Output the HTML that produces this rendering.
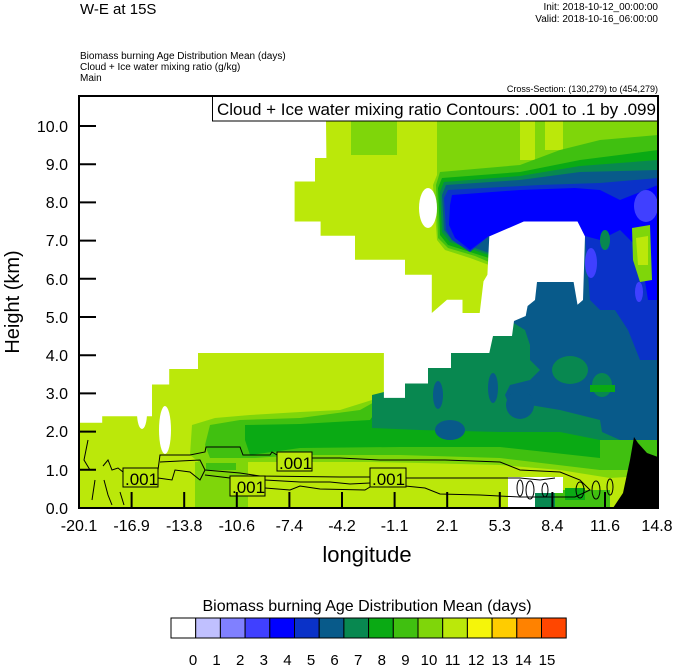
<!DOCTYPE html>
<html><head><meta charset="utf-8"><style>
html,body{margin:0;padding:0;background:#fff;}
svg{display:block;font-family:"Liberation Sans",Arial,sans-serif;}
</style></head><body>
<svg width="674" height="667" viewBox="0 0 674 667" xmlns="http://www.w3.org/2000/svg">
<rect width="674" height="667" fill="#fff"/>
<text x="80" y="14" font-size="15">W-E at 15S</text>
<text x="658" y="10" font-size="10" text-anchor="end">Init: 2018-10-12_00:00:00</text>
<text x="658" y="22" font-size="10" text-anchor="end">Valid: 2018-10-16_06:00:00</text>
<text x="80" y="59" font-size="10">Biomass burning Age Distribution Mean   (days)</text>
<text x="80" y="70" font-size="10">Cloud + Ice water mixing ratio   (g/kg)</text>
<text x="80" y="81" font-size="10">Main</text>
<text x="658" y="92" font-size="9" text-anchor="end">Cross-Section: (130,279) to (454,279)</text>

<clipPath id="c"><rect x="79" y="96" width="579" height="412"/></clipPath>
<g clip-path="url(#c)">
<rect x="79" y="96" width="579" height="412" fill="#bbe80a"/>
<rect x="351" y="115" width="46" height="40" fill="#7fd60a"/>
<polygon fill="#7fd60a" points="437,115 520,115 520,160 535,160 535,115 545,115 545,150 563,150 563,115 658,115 658,475 610,478 560,470 500,465 420,463 370,462 300,462 250,462 200,463 190,455 192,425 215,418 250,415 300,412 340,410 372,400 384,395 384,353 489,353 489,265 470,258 445,250 437,240 433,185 437,175"/>
<polygon fill="#40c010" points="440,172 520,165 560,150 600,140 658,135 658,470 600,470 500,458 400,455 300,455 255,458 210,458 205,445 210,425 240,420 300,418 360,410 378,400 384,398 384,353 489,353 489,262 475,256 448,248 438,238 436,185"/>
<polygon fill="#0aaa14" points="442,178 520,172 580,160 658,150 658,460 600,458 500,447 400,447 300,448 250,455 245,440 245,425 300,424 370,420 384,400 384,353 489,353 489,258 448,245 440,235 438,188"/>
<polygon fill="#088850" points="444,182 520,176 580,166 658,160 658,440 600,440 560,432 500,432 420,430 372,428 372,395 384,392 384,353 489,353 489,255 450,242 442,232 440,192"/>
<polygon fill="#085a8a" points="446,185 520,180 580,172 658,170 658,440 620,440 602,432 600,420 560,410 530,405 510,407 505,395 510,385 530,380 540,370 530,360 530,345 525,330 512,322 512,300 489,300 489,253 452,240 444,230 442,195"/>
<ellipse cx="438" cy="395" rx="5" ry="14" fill="#085a8a"/>
<ellipse cx="493" cy="388" rx="5" ry="15" fill="#085a8a"/>
<ellipse cx="450" cy="430" rx="15" ry="10" fill="#085a8a"/>
<ellipse cx="520" cy="405" rx="14" ry="14" fill="#085a8a"/>
<ellipse cx="570" cy="370" rx="18" ry="14" fill="#088850"/>
<ellipse cx="602" cy="385" rx="10" ry="12" fill="#088850"/>
<rect x="590" y="385" width="25" height="7" fill="#0aaa14"/>
<polygon fill="#0a32c8" points="448,190 540,185 600,183 658,178 658,360 640,360 628,330 615,310 600,310 590,300 585,236 489,236 470,252 452,240 446,230 444,198"/>
<polygon fill="#0000ff" points="452,195 520,190 575,188 600,190 620,200 658,185 658,300 648,300 640,250 630,240 620,230 610,235 600,240 585,236 489,236 470,250 455,238 449,225 450,205"/>
<ellipse cx="646" cy="206" rx="12" ry="16" fill="#4040ff"/>
<ellipse cx="591" cy="263" rx="6" ry="15" fill="#4040ff"/>
<ellipse cx="639" cy="292" rx="4" ry="10" fill="#4040ff"/>
<ellipse cx="605" cy="240" rx="5" ry="10" fill="#088850"/>
<polygon fill="#7fd60a" points="632,228 650,225 652,280 640,282 633,260"/>
<polygon fill="#bbe80a" points="636,238 648,236 648,265 638,265"/>
<rect x="195" y="462" width="53" height="46" fill="#7fd60a"/>
<rect x="206" y="463" width="30" height="7" fill="#40c010"/>
<rect x="510" y="490" width="100" height="18" fill="#40c010"/>
<rect x="535" y="492" width="20" height="16" fill="#088850"/>
<rect x="565" y="488" width="20" height="12" fill="#0aaa14"/>
<rect x="600" y="440" width="58" height="30" fill="#40c010"/>
<polygon fill="#fff" points="79,96 326,96 326,120.6 326.4,158 315,158 315,181.5 294.6,181.5 294.6,221.5 320.6,221.5 320.6,235.8 355,235.8 355,259.7 405,259.7 405,274.7 431.8,274.7 431.8,313 447,299.7 462.5,299.7 462.5,313 479.7,313 483.5,281.4 487.4,274.7 489.3,236.4 523.8,221.5 577.5,221.5 585,236.4 583,300 577.5,304.7 573.6,282 537,282 535,300 527.6,306 525.7,316 514,321 512,336 493,336 489.3,353 451,353 451,368 428,368 428,383.5 405,383.5 405,397.9 383.9,397.9 383.9,353 198,353 198,369 169.2,369 169.2,384.5 152,384.5 152,416.2 102.2,416.2 102.2,422.8 79,422.8"/>
<ellipse cx="428" cy="208" rx="9" ry="20" fill="#fff"/>
<ellipse cx="142" cy="413" rx="5" ry="16" fill="#fff"/>
<ellipse cx="165" cy="430" rx="6" ry="24" fill="#fff"/>
<rect x="508" y="477" width="55" height="16" fill="#fff"/>
<rect x="508" y="490" width="27" height="18" fill="#fff"/>
<polygon fill="#000" points="613,508 623,493 630,460 634,437 638,443 647,453 658,457 658,508"/>
<g fill="none" stroke="#000" stroke-width="1">
<path d="M103,466 L108,460 L112,470 L118,468 L123,472 M158,470 L160,455 L190,455 L205,452 L206,447 L240,447 L243,455 L270,455 L272,452 L277,455 M312,458 L340,458 L380,460 L445,460 L500,462 L520,470 L560,472 L580,480 L590,490 L575,497 L520,497 L480,495 L440,494 L425,488 L405,486 M370,477 L340,477 L260,476 L240,473 L205,470 L200,460 L160,462"/>
<path d="M158,478 L172,480 L175,470 L190,472 L200,480 L205,470 M265,480 L300,482 L330,482 L350,484 L370,483 M406,478 L450,478 L520,478 L540,480 L555,478"/>
<path d="M205,475 L230,478 M265,488 L290,490 L300,486 L320,489 L365,490 L370,487"/>
<path d="M104,480 L108,495 L112,505 M120,492 L124,505 M88,440 L84,460 L90,470 M95,480 L92,500"/>
<ellipse cx="580" cy="490" rx="4" ry="8"/><ellipse cx="596" cy="490" rx="4" ry="9"/><ellipse cx="610" cy="487" rx="3" ry="8"/>
<ellipse cx="520" cy="488" rx="3" ry="8"/><ellipse cx="530" cy="490" rx="4" ry="9"/><ellipse cx="545" cy="490" rx="3" ry="7"/>
</g>
<g stroke="#000" stroke-width="1" fill="#bbe80a">
<rect x="123" y="468" width="35" height="19"/>
<rect x="230" y="476" width="35" height="20"/>
<rect x="277" y="452" width="35" height="19"/>
<rect x="370" y="468" width="36" height="19"/>
</g>
<g font-size="17">
<text x="125" y="485">.001</text>
<text x="232" y="493">.001</text>
<text x="279" y="469">.001</text>
<text x="372" y="485">.001</text>
</g>
</g>
<rect x="212.5" y="96.5" width="445" height="24.5" fill="#fff" stroke="#000" stroke-width="1"/>
<text x="217" y="115" font-size="17">Cloud + Ice water mixing ratio Contours: .001 to .1 by .099</text>
<rect x="79" y="96" width="579" height="412" fill="none" stroke="#000" stroke-width="2"/>
<g stroke="#000" stroke-width="2">
<line x1="79" y1="508" x2="96" y2="508"/><line x1="79" y1="469.8" x2="96" y2="469.8"/><line x1="79" y1="431.6" x2="96" y2="431.6"/><line x1="79" y1="393.4" x2="96" y2="393.4"/><line x1="79" y1="355.2" x2="96" y2="355.2"/><line x1="79" y1="317" x2="96" y2="317"/><line x1="79" y1="278.8" x2="96" y2="278.8"/><line x1="79" y1="240.6" x2="96" y2="240.6"/><line x1="79" y1="202.4" x2="96" y2="202.4"/><line x1="79" y1="164.2" x2="96" y2="164.2"/><line x1="79" y1="126" x2="96" y2="126"/>
<line x1="131.6" y1="508" x2="131.6" y2="492"/><line x1="184.2" y1="508" x2="184.2" y2="492"/><line x1="236.8" y1="508" x2="236.8" y2="492"/><line x1="289.4" y1="508" x2="289.4" y2="492"/><line x1="342" y1="508" x2="342" y2="492"/><line x1="394.6" y1="508" x2="394.6" y2="492"/><line x1="447.2" y1="508" x2="447.2" y2="492"/><line x1="499.8" y1="508" x2="499.8" y2="492"/><line x1="552.4" y1="508" x2="552.4" y2="492"/><line x1="605" y1="508" x2="605" y2="492"/>
</g>
<g font-size="16" text-anchor="end">
<text x="68" y="514">0.0</text><text x="68" y="476">1.0</text><text x="68" y="437">2.0</text><text x="68" y="399">3.0</text><text x="68" y="361">4.0</text><text x="68" y="323">5.0</text><text x="68" y="285">6.0</text><text x="68" y="246">7.0</text><text x="68" y="208">8.0</text><text x="68" y="170">9.0</text><text x="68" y="132">10.0</text>
</g>
<g font-size="16" text-anchor="middle">
<text x="79" y="531">-20.1</text><text x="131.6" y="531">-16.9</text><text x="184.2" y="531">-13.8</text><text x="236.8" y="531">-10.6</text><text x="289.4" y="531">-7.4</text><text x="342" y="531">-4.2</text><text x="394.6" y="531">-1.1</text><text x="447.2" y="531">2.1</text><text x="499.8" y="531">5.3</text><text x="552.4" y="531">8.4</text><text x="605" y="531">11.6</text><text x="657" y="531">14.8</text>
</g>
<text x="367" y="562" font-size="22" text-anchor="middle">longitude</text>
<text transform="translate(19,302) rotate(-90)" font-size="20" text-anchor="middle">Height (km)</text>
<text x="367" y="611" font-size="16" text-anchor="middle">Biomass burning Age Distribution Mean  (days)</text>
<g stroke="#000" stroke-width="1">
<rect x="171" y="618" width="24.7" height="20" fill="#fff"/>
<rect x="195.7" y="618" width="24.7" height="20" fill="#c0c0ff"/>
<rect x="220.4" y="618" width="24.7" height="20" fill="#8080ff"/>
<rect x="245.1" y="618" width="24.7" height="20" fill="#4040ff"/>
<rect x="269.8" y="618" width="24.7" height="20" fill="#0000ff"/>
<rect x="294.5" y="618" width="24.7" height="20" fill="#0a32c8"/>
<rect x="319.2" y="618" width="24.7" height="20" fill="#085a8a"/>
<rect x="343.9" y="618" width="24.7" height="20" fill="#088850"/>
<rect x="368.6" y="618" width="24.7" height="20" fill="#0aaa14"/>
<rect x="393.3" y="618" width="24.7" height="20" fill="#40c010"/>
<rect x="418" y="618" width="24.7" height="20" fill="#7fd60a"/>
<rect x="442.7" y="618" width="24.7" height="20" fill="#bbe80a"/>
<rect x="467.4" y="618" width="24.7" height="20" fill="#f5f50a"/>
<rect x="492.1" y="618" width="24.7" height="20" fill="#ffcc00"/>
<rect x="516.8" y="618" width="24.7" height="20" fill="#ff8200"/>
<rect x="541.5" y="618" width="24.7" height="20" fill="#ff4600"/>
</g>
<g font-size="15" text-anchor="middle">
<text x="193" y="665">0</text><text x="216.6" y="665">1</text><text x="240.2" y="665">2</text><text x="263.8" y="665">3</text><text x="287.4" y="665">4</text><text x="311" y="665">5</text><text x="334.6" y="665">6</text><text x="358.2" y="665">7</text><text x="381.8" y="665">8</text><text x="405.4" y="665">9</text><text x="429" y="665">10</text><text x="452.6" y="665">11</text><text x="476.2" y="665">12</text><text x="499.8" y="665">13</text><text x="523.4" y="665">14</text><text x="547" y="665">15</text>
</g>
</svg>
</body></html>
